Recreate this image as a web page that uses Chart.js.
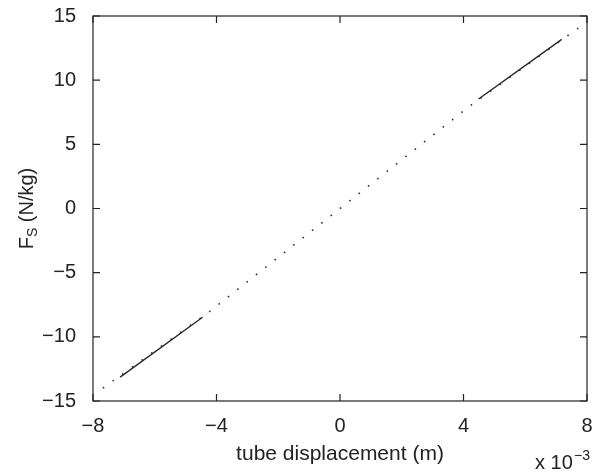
<!DOCTYPE html>
<html>
<head>
<meta charset="utf-8">
<script src="https://cdn.jsdelivr.net/npm/chart.js@4/dist/chart.umd.min.js"></script>
<style>
  html, body { margin: 0; padding: 0; background: #ffffff; }
  #wrap { width: 594px; height: 474px; }
</style>
</head>
<body>
<div id="wrap"><canvas id="c" width="594" height="474"></canvas></div>
<script>
// ---- data (x in units of 1e-3 m, y in N/kg) ----
const xTicks = [-8, -4, 0, 4, 8];
const yTicks = [-15, -10, -5, 0, 5, 10, 15];
const dottedX = [-7.68, -4.21, 0, 4.21, 7.68, 8.0];
const dottedY = [-14.0, -8.0, 0, 7.99, 13.99, 14.6];
const lowerX = [-7.12, -4.45];
const lowerY = [-13.14, -8.48];
const upperX = [4.49, 7.18];
const upperY = [8.53, 13.18];

const xTitle = 'tube displacement (m)';
const yTitleMain = 'F';
const yTitleSub = 'S';
const yTitleRest = ' (N/kg)';
const xMult = 'x 10';
const xMultExp = '\u22123';

const FONT = "'Liberation Sans', Arial, Helvetica, sans-serif";
const INK = '#222222';

function pts(xs, ys) { return xs.map((x, i) => ({ x: x, y: ys[i] })); }
function fmt(v) { return v < 0 ? '\u2212' + Math.abs(v) : String(v); }

const frame = {
  id: 'frame',
  afterDraw(chart) {
    const ctx = chart.ctx, a = chart.chartArea;
    const xs = chart.scales.x, ys = chart.scales.y;
    const TL = 7;
    ctx.save();
    ctx.strokeStyle = INK;
    ctx.lineWidth = 1.2;
    ctx.strokeRect(a.left, a.top, a.right - a.left, a.bottom - a.top);
    ctx.beginPath();
    xTicks.forEach(v => {
      const px = xs.getPixelForValue(v);
      ctx.moveTo(px, a.bottom); ctx.lineTo(px, a.bottom - TL);
      ctx.moveTo(px, a.top); ctx.lineTo(px, a.top + TL);
    });
    yTicks.forEach(v => {
      const py = ys.getPixelForValue(v);
      ctx.moveTo(a.left, py); ctx.lineTo(a.left + TL, py);
      ctx.moveTo(a.right, py); ctx.lineTo(a.right - TL, py);
    });
    ctx.stroke();

    // titles
    ctx.fillStyle = INK;
    ctx.font = '21px ' + FONT;
    ctx.textAlign = 'center';
    ctx.textBaseline = 'alphabetic';
    ctx.fillText(xTitle, (a.left + a.right) / 2, 460);

    ctx.textAlign = 'left';
    ctx.font = '20px ' + FONT;
    ctx.fillText(xMult, 535, 469);
    ctx.font = '14px ' + FONT;
    ctx.fillText(xMultExp, 574, 460);

    // y title rotated with subscript
    ctx.save();
    ctx.translate(33, (a.top + a.bottom) / 2);
    ctx.rotate(-Math.PI / 2);
    ctx.font = '20px ' + FONT;
    const w1 = ctx.measureText(yTitleMain).width;
    const w3 = ctx.measureText(yTitleRest).width;
    ctx.font = '14px ' + FONT;
    const w2 = ctx.measureText(yTitleSub).width;
    let x0 = -(w1 + w2 + w3) / 2;
    ctx.font = '20px ' + FONT;
    ctx.fillText(yTitleMain, x0, 0);
    ctx.font = '14px ' + FONT;
    ctx.fillText(yTitleSub, x0 + w1, 4);
    ctx.font = '20px ' + FONT;
    ctx.fillText(yTitleRest, x0 + w1 + w2, 0);
    ctx.restore();
    ctx.restore();
  }
};

new Chart(document.getElementById('c'), {
  type: 'scatter',
  data: {
    datasets: [
      {
        data: pts(lowerX, lowerY),
        showLine: true,
        borderColor: INK,
        borderWidth: 1.3,
        pointRadius: 0,
        order: 1
      },
      {
        data: pts(upperX, upperY),
        showLine: true,
        borderColor: INK,
        borderWidth: 1.3,
        pointRadius: 0,
        order: 1
      },
      {
        data: pts(dottedX, dottedY),
        showLine: true,
        borderColor: '#333333',
        borderWidth: 1.6,
        borderDash: [1.6, 10.3],
        pointRadius: 0,
        tension: 0,
        order: 2
      }
    ]
  },
  options: {
    responsive: false,
    animation: false,
    devicePixelRatio: 1,
    layout: { padding: { left: 0, right: 7, top: 16, bottom: 0 } },
    plugins: { legend: { display: false }, tooltip: { enabled: false } },
    scales: {
      x: {
        type: 'linear',
        min: -8, max: 8,
        afterBuildTicks: s => { s.ticks = xTicks.map(v => ({ value: v })); },
        afterFit: s => { s.height = 73; s.paddingLeft = 0; s.paddingRight = 0; },
        grid: { display: false, drawTicks: false },
        border: { display: false },
        ticks: {
          callback: v => fmt(v),
          padding: 13,
          color: INK,
          font: { family: FONT, size: 20 },
          maxRotation: 0
        }
      },
      y: {
        type: 'linear',
        min: -15, max: 15,
        afterBuildTicks: s => { s.ticks = yTicks.map(v => ({ value: v })); },
        afterFit: s => { s.width = 93; s.paddingTop = 0; s.paddingBottom = 0; },
        grid: { display: false, drawTicks: false },
        border: { display: false },
        ticks: {
          callback: v => fmt(v),
          padding: 17,
          color: INK,
          font: { family: FONT, size: 20 }
        }
      }
    }
  },
  plugins: [frame]
});
</script>
</body>
</html>
